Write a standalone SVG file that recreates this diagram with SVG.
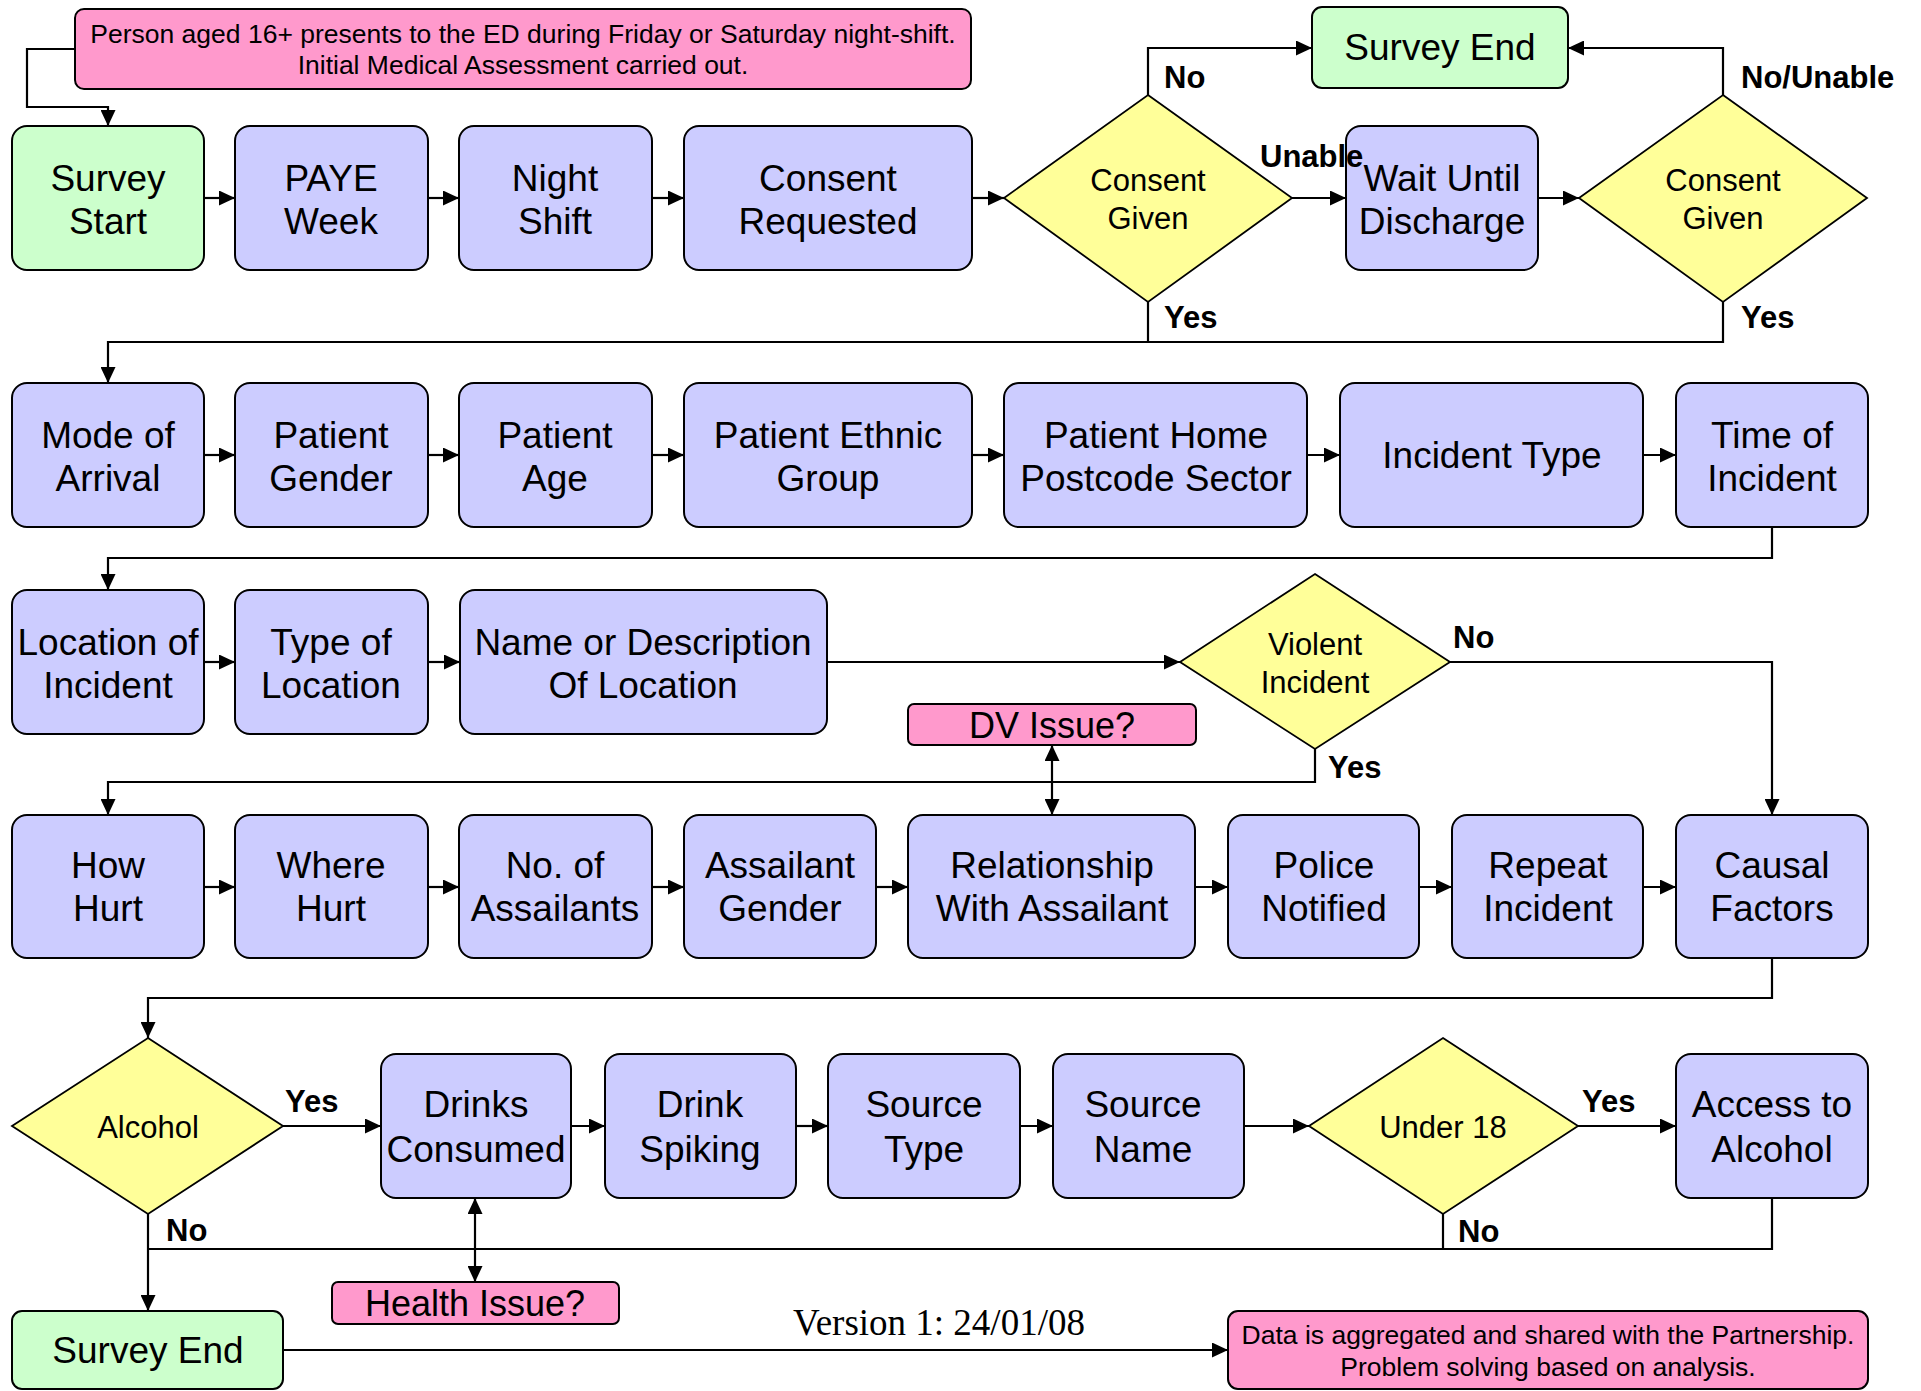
<svg xmlns="http://www.w3.org/2000/svg" width="1921" height="1391" viewBox="0 0 1921 1391">
<style>
.bg{fill:#ffffff}
.blue{fill:#CCCCFF;stroke:#000;stroke-width:2}
.green{fill:#CCFFCC;stroke:#000;stroke-width:2}
.pink{fill:#FF99CC;stroke:#000;stroke-width:2}
.dia{fill:#FFFF99;stroke:#000;stroke-width:1.8}
.t{font-family:"Liberation Sans",Arial,sans-serif;font-size:37px;fill:#000;text-anchor:middle}
.td{font-family:"Liberation Sans",Arial,sans-serif;font-size:31px;fill:#000;text-anchor:middle}
.ts{font-family:"Liberation Sans",Arial,sans-serif;font-size:26.5px;fill:#000;text-anchor:middle}
.lb{font-family:"Liberation Sans",Arial,sans-serif;font-size:31px;font-weight:bold;fill:#000}
.ver{font-family:"Liberation Serif","Times New Roman",serif;font-size:37px;fill:#000;text-anchor:middle}
.c{fill:none;stroke:#000;stroke-width:2.2}
.a{marker-end:url(#ah)}
.aa{marker-end:url(#ah);marker-start:url(#ah)}
</style>
<defs>
<marker id="ah" markerUnits="userSpaceOnUse" markerWidth="16" markerHeight="15" refX="16" refY="7.5" orient="auto-start-reverse">
<path d="M0,0 L16,7.5 L0,15 z" fill="#000"/>
</marker>
</defs>
<rect class="bg" x="0" y="0" width="1921" height="1391"/>

<g id="connectors">
<path class="c a" d="M75,49 H27 V107 H108 V126"/>
<path class="c a" d="M203,198 H235"/>
<path class="c a" d="M428,198 H459"/>
<path class="c a" d="M652,198 H684"/>
<path class="c a" d="M972,198 H1004"/>
<path class="c a" d="M1292,198 H1346"/>
<path class="c a" d="M1538,198 H1579"/>
<path class="c a" d="M1148,95 V48 H1312"/>
<path class="c a" d="M1723,95 V48 H1568"/>
<path class="c" d="M1148,302 V342"/>
<path class="c a" d="M1723,302 V342 H108 V383"/>
<path class="c a" d="M203,455 H235"/>
<path class="c a" d="M428,455 H459"/>
<path class="c a" d="M652,455 H684"/>
<path class="c a" d="M972,455 H1004"/>
<path class="c a" d="M1307,455 H1340"/>
<path class="c a" d="M1643,455 H1676"/>
<path class="c a" d="M1772,527 V558 H108 V590"/>
<path class="c a" d="M203,662 H235"/>
<path class="c a" d="M428,662 H460"/>
<path class="c a" d="M827,662 H1180"/>
<path class="c a" d="M1450,662 H1772 V815"/>
<path class="c a" d="M1315,749 V782 H108 V815"/>
<path class="c aa" d="M1052,745 V815"/>
<path class="c a" d="M203,887 H235"/>
<path class="c a" d="M428,887 H459"/>
<path class="c a" d="M652,887 H684"/>
<path class="c a" d="M876,887 H908"/>
<path class="c a" d="M1195,887 H1228"/>
<path class="c a" d="M1419,887 H1452"/>
<path class="c a" d="M1643,887 H1676"/>
<path class="c a" d="M1772,958 V998 H148 V1038"/>
<path class="c a" d="M283,1126 H381"/>
<path class="c a" d="M571,1126 H605"/>
<path class="c a" d="M796,1126 H828"/>
<path class="c a" d="M1020,1126 H1053"/>
<path class="c a" d="M1244,1126 H1309"/>
<path class="c a" d="M1578,1126 H1676"/>
<path class="c" d="M1443,1214 V1249"/>
<path class="c" d="M1772,1198 V1249 H148"/>
<path class="c a" d="M148,1214 V1311"/>
<path class="c aa" d="M475,1198 V1282"/>
<path class="c a" d="M283,1350 H1228"/>
</g>

<g id="n-intro"><rect class="pink" x="75" y="9" width="896" height="80" rx="9"/>
<text class="ts" x="523" y="43">Person aged 16+ presents to the ED during Friday or Saturday night-shift.</text>
<text class="ts" x="523" y="74">Initial Medical Assessment carried out.</text></g>

<g id="n-survey-start"><rect class="green" x="12" y="126" width="192" height="144" rx="15"/>
<text class="t" x="108" y="191">Survey</text><text class="t" x="108" y="234">Start</text></g>
<g id="n-paye"><rect class="blue" x="235" y="126" width="193" height="144" rx="15"/>
<text class="t" x="331" y="191">PAYE</text><text class="t" x="331" y="234">Week</text></g>
<g id="n-night"><rect class="blue" x="459" y="126" width="193" height="144" rx="15"/>
<text class="t" x="555" y="191">Night</text><text class="t" x="555" y="234">Shift</text></g>
<g id="n-consent-req"><rect class="blue" x="684" y="126" width="288" height="144" rx="15"/>
<text class="t" x="828" y="191">Consent</text><text class="t" x="828" y="234">Requested</text></g>
<g id="n-consent1"><polygon class="dia" points="1148,95 1292,198 1148,302 1004,198"/>
<text class="td" x="1148" y="191">Consent</text><text class="td" x="1148" y="229">Given</text></g>
<g id="n-wait"><rect class="blue" x="1346" y="126" width="192" height="144" rx="15"/>
<text class="t" x="1442" y="191">Wait Until</text><text class="t" x="1442" y="234">Discharge</text></g>
<g id="n-consent2"><polygon class="dia" points="1723,95 1867,198 1723,302 1579,198"/>
<text class="td" x="1723" y="191">Consent</text><text class="td" x="1723" y="229">Given</text></g>
<g id="n-survey-end-top"><rect class="green" x="1312" y="7" width="256" height="81" rx="10"/>
<text class="t" x="1440" y="60">Survey End</text></g>

<g id="n-mode"><rect class="blue" x="12" y="383" width="192" height="144" rx="15"/>
<text class="t" x="108" y="448">Mode of</text><text class="t" x="108" y="491">Arrival</text></g>
<g id="n-gender"><rect class="blue" x="235" y="383" width="193" height="144" rx="15"/>
<text class="t" x="331" y="448">Patient</text><text class="t" x="331" y="491">Gender</text></g>
<g id="n-age"><rect class="blue" x="459" y="383" width="193" height="144" rx="15"/>
<text class="t" x="555" y="448">Patient</text><text class="t" x="555" y="491">Age</text></g>
<g id="n-ethnic"><rect class="blue" x="684" y="383" width="288" height="144" rx="15"/>
<text class="t" x="828" y="448">Patient Ethnic</text><text class="t" x="828" y="491">Group</text></g>
<g id="n-postcode"><rect class="blue" x="1004" y="383" width="303" height="144" rx="15"/>
<text class="t" x="1156" y="448">Patient Home</text><text class="t" x="1156" y="491">Postcode Sector</text></g>
<g id="n-inctype"><rect class="blue" x="1340" y="383" width="303" height="144" rx="15"/>
<text class="t" x="1492" y="468">Incident Type</text></g>
<g id="n-time"><rect class="blue" x="1676" y="383" width="192" height="144" rx="15"/>
<text class="t" x="1772" y="448">Time of</text><text class="t" x="1772" y="491">Incident</text></g>

<g id="n-location"><rect class="blue" x="12" y="590" width="192" height="144" rx="15"/>
<text class="t" x="108" y="655">Location of</text><text class="t" x="108" y="698">Incident</text></g>
<g id="n-typeloc"><rect class="blue" x="235" y="590" width="193" height="144" rx="15"/>
<text class="t" x="331" y="655">Type of</text><text class="t" x="331" y="698">Location</text></g>
<g id="n-nameloc"><rect class="blue" x="460" y="590" width="367" height="144" rx="15"/>
<text class="t" x="643" y="655">Name or Description</text><text class="t" x="643" y="698">Of Location</text></g>
<g id="n-violent"><polygon class="dia" points="1315,574 1450,662 1315,749 1180,662"/>
<text class="td" x="1315" y="655">Violent</text><text class="td" x="1315" y="693">Incident</text></g>
<g id="n-dv"><rect class="pink" x="908" y="704" width="288" height="41" rx="6"/>
<text class="t" x="1052" y="738" style="font-size:36px">DV Issue?</text></g>

<g id="n-how"><rect class="blue" x="12" y="815" width="192" height="143" rx="15"/>
<text class="t" x="108" y="878">How</text><text class="t" x="108" y="921">Hurt</text></g>
<g id="n-where"><rect class="blue" x="235" y="815" width="193" height="143" rx="15"/>
<text class="t" x="331" y="878">Where</text><text class="t" x="331" y="921">Hurt</text></g>
<g id="n-noass"><rect class="blue" x="459" y="815" width="193" height="143" rx="15"/>
<text class="t" x="555" y="878">No. of</text><text class="t" x="555" y="921">Assailants</text></g>
<g id="n-assgender"><rect class="blue" x="684" y="815" width="192" height="143" rx="15"/>
<text class="t" x="780" y="878">Assailant</text><text class="t" x="780" y="921">Gender</text></g>
<g id="n-relationship"><rect class="blue" x="908" y="815" width="287" height="143" rx="15"/>
<text class="t" x="1052" y="878">Relationship</text><text class="t" x="1052" y="921">With Assailant</text></g>
<g id="n-police"><rect class="blue" x="1228" y="815" width="191" height="143" rx="15"/>
<text class="t" x="1324" y="878">Police</text><text class="t" x="1324" y="921">Notified</text></g>
<g id="n-repeat"><rect class="blue" x="1452" y="815" width="191" height="143" rx="15"/>
<text class="t" x="1548" y="878">Repeat</text><text class="t" x="1548" y="921">Incident</text></g>
<g id="n-causal"><rect class="blue" x="1676" y="815" width="192" height="143" rx="15"/>
<text class="t" x="1772" y="878">Causal</text><text class="t" x="1772" y="921">Factors</text></g>

<g id="n-alcohol"><polygon class="dia" points="148,1038 283,1126 148,1214 12,1126"/>
<text class="td" x="148" y="1138">Alcohol</text></g>
<g id="n-drinks"><rect class="blue" x="381" y="1054" width="190" height="144" rx="15"/>
<text class="t" x="476" y="1117">Drinks</text><text class="t" x="476" y="1162">Consumed</text></g>
<g id="n-spiking"><rect class="blue" x="605" y="1054" width="191" height="144" rx="15"/>
<text class="t" x="700" y="1117">Drink</text><text class="t" x="700" y="1162">Spiking</text></g>
<g id="n-srctype"><rect class="blue" x="828" y="1054" width="192" height="144" rx="15"/>
<text class="t" x="924" y="1117">Source</text><text class="t" x="924" y="1162">Type</text></g>
<g id="n-srcname"><rect class="blue" x="1053" y="1054" width="191" height="144" rx="15"/>
<text class="t" x="1143" y="1117">Source</text><text class="t" x="1143" y="1162">Name</text></g>
<g id="n-under18"><polygon class="dia" points="1443,1038 1578,1126 1443,1214 1309,1126"/>
<text class="td" x="1443" y="1138">Under 18</text></g>
<g id="n-access"><rect class="blue" x="1676" y="1054" width="192" height="144" rx="15"/>
<text class="t" x="1772" y="1117">Access to</text><text class="t" x="1772" y="1162">Alcohol</text></g>
<g id="n-health"><rect class="pink" x="332" y="1282" width="287" height="42" rx="6"/>
<text class="t" x="475" y="1316" style="font-size:36px">Health Issue?</text></g>

<g id="n-survey-end-bottom"><rect class="green" x="12" y="1311" width="271" height="78" rx="10"/>
<text class="t" x="148" y="1363">Survey End</text></g>
<g id="n-data"><rect class="pink" x="1228" y="1311" width="640" height="78" rx="10"/>
<text class="ts" x="1548" y="1344">Data is aggregated and shared with the Partnership.</text>
<text class="ts" x="1548" y="1376">Problem solving based on analysis.</text></g>

<g id="labels">
<text class="lb" x="1164" y="88">No</text>
<text class="lb" x="1260" y="167">Unable</text>
<text class="lb" x="1164" y="328">Yes</text>
<text class="lb" x="1741" y="88">No/Unable</text>
<text class="lb" x="1741" y="328">Yes</text>
<text class="lb" x="1453" y="648">No</text>
<text class="lb" x="1328" y="778">Yes</text>
<text class="lb" x="285" y="1112">Yes</text>
<text class="lb" x="166" y="1241">No</text>
<text class="lb" x="1582" y="1112">Yes</text>
<text class="lb" x="1458" y="1242">No</text>
<text class="ver" x="939" y="1335">Version 1: 24/01/08</text>
</g>
</svg>
